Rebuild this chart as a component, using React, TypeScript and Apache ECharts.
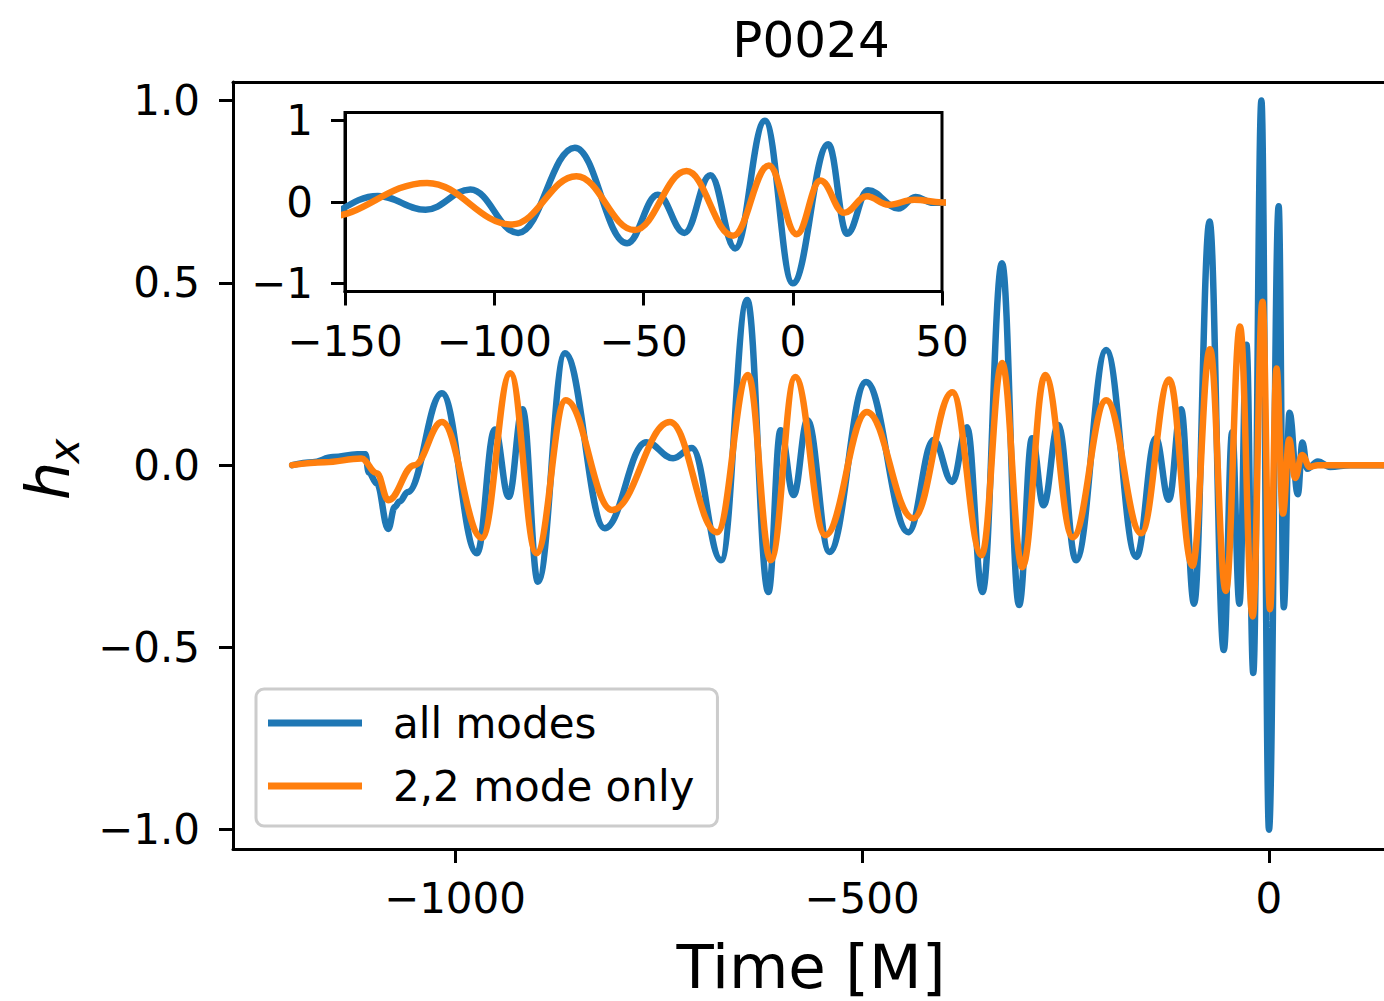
import React, { useEffect, useRef } from "react";
import * as echarts from "echarts";

// ---- data: [time (M), h_x] ----
const allModes: [number, number][] = [
  [-1200, 0], [-1175, 0.008], [-1150, 0.022], [-1120, 0.03], [-1110, 0.03],
  [-1106, -0.02], [-1096, -0.05], [-1082, -0.175], [-1074, -0.115], [-1068, -0.1],
  [-1058, -0.074], [-1016, 0.197], [-973, -0.242], [-951, 0.098], [-934, -0.087],
  [-917, 0.153], [-898, -0.32], [-865, 0.307], [-816, -0.173], [-765, 0.063],
  [-732, 0.019], [-709, 0.047], [-673, -0.261], [-641, 0.453], [-615, -0.348],
  [-600, 0.096], [-584, -0.082], [-567, 0.123], [-540, -0.238], [-495, 0.228],
  [-443, -0.184], [-412, 0.069], [-389, -0.046], [-371, 0.104], [-352, -0.348],
  [-328, 0.554], [-307, -0.384], [-291, 0.074], [-277, -0.11], [-259, 0.11],
  [-237, -0.261], [-200, 0.316], [-163, -0.252], [-139, 0.074], [-123, -0.095],
  [-108, 0.153], [-92, -0.38], [-73, 0.668], [-55.5, -0.507], [-45.2, 0.09],
  [-36.3, -0.38], [-27.6, 0.33], [-19.3, -0.57], [-9.3, 1.0], [0, -1.0],
  [11.9, 0.71], [18.2, -0.39], [25.2, 0.144], [35.4, -0.08], [41.1, 0.062],
  [47, -0.01], [60, 0.01], [75, -0.005], [100, 0], [147, 0],
];

const mode22: [number, number][] = [
  [-1200, 0], [-1160, 0.008], [-1115, 0.018], [-1096, -0.022], [-1082, -0.096],
  [-1050, 0.0], [-1016, 0.118], [-967, -0.2], [-932, 0.252], [-900, -0.242],
  [-864, 0.178], [-807, -0.123], [-736, 0.118], [-678, -0.184], [-640, 0.247],
  [-612, -0.261], [-582, 0.242], [-545, -0.192], [-494, 0.146], [-437, -0.146],
  [-389, 0.2], [-353, -0.247], [-328, 0.28], [-303, -0.28], [-275, 0.247],
  [-241, -0.198], [-200, 0.178], [-157, -0.187], [-122.5, 0.235], [-94, -0.276],
  [-72.5, 0.318], [-53, -0.345], [-35.6, 0.38], [-20, -0.415], [-8, 0.448],
  [1.3, -0.395], [9.3, 0.265], [17.2, -0.133], [24.8, 0.07], [32.1, -0.035],
  [40.7, 0.028], [50, -0.005], [60, 0], [147, 0],
];

const mainXTicks = [-1000, -500, 0];
const mainYTicks = [-1, -0.5, 0, 0.5, 1];
const insetXTicks = [-150, -100, -50, 0, 50];
const insetYTicks = [-1, 0, 1];
const seriesNames = ["all modes", "2,2 mode only"];
const chartTitle = "P0024";
const xTitle = "Time [M]";

const FONT = "DejaVu Sans";
const BLUE = "#1f77b4";
const ORANGE = "#ff7f0e";

const MAIN_X_MIN = -1272.7;
const MAIN_X_MAX = 141.3;

const minus = (s: string) => s.replace("-", "\u2212");
const fmtInt = (v: number) => minus(String(Math.round(v) + 0));
const fmt1 = (v: number) => minus((v + 0).toFixed(1));

function valueAxis(
  gridIndex: number,
  min: number,
  max: number,
  ticks: number[],
  fmt: (v: number) => string,
  margin: number
) {
  return {
    type: "value",
    gridIndex,
    min,
    max,
    splitLine: { show: false },
    axisLine: { show: true, onZero: false, lineStyle: { color: "#000", width: 3 } },
    axisTick: {
      show: true,
      inside: false,
      length: 14,
      lineStyle: { color: "#000", width: 3 },
      customValues: ticks,
    },
    axisLabel: {
      show: true,
      customValues: ticks,
      formatter: fmt,
      margin,
      fontSize: 42,
      fontFamily: FONT,
      color: "#000",
    },
  };
}

function lineSeries(name: string, data: [number, number][], color: string, idx: number, z: number) {
  return {
    type: "line",
    name,
    data,
    xAxisIndex: idx,
    yAxisIndex: idx,
    smooth: 0.4,
    smoothMonotone: "x",
    symbol: "none",
    showSymbol: false,
    clip: true,
    z,
    lineStyle: { color, width: 6.5, cap: "round", join: "round" },
    itemStyle: { color },
    emphasis: { disabled: true },
  };
}

export default function App() {
  const ref = useRef<HTMLDivElement>(null);

  useEffect(() => {
    document.body.style.margin = "0";
    if (!ref.current) return;
    const chart = echarts.init(ref.current, undefined, { renderer: "svg" });
    const option: any = {
      animation: false,
      backgroundColor: "#fff",
      grid: [
        {
          left: 233,
          top: 82,
          width: 1151,
          height: 767,
          show: false,
        },
        {
          left: 345,
          top: 112.5,
          width: 597,
          height: 179,
          show: true,
          borderColor: "#000",
          borderWidth: 3,
          backgroundColor: "#fff",
        },
      ],
      xAxis: [
        valueAxis(0, MAIN_X_MIN, MAIN_X_MAX, mainXTicks, fmtInt, 28),
        valueAxis(1, -150, 50, insetXTicks, fmtInt, 29),
        {
          type: "value",
          gridIndex: 0,
          position: "top",
          min: MAIN_X_MIN,
          max: MAIN_X_MAX,
          splitLine: { show: false },
          axisLine: { show: true, onZero: false, lineStyle: { color: "#000", width: 3 } },
          axisTick: { show: false },
          axisLabel: { show: false },
        },
      ],
      yAxis: [
        valueAxis(0, -1.053, 1.051, mainYTicks, fmt1, 33),
        valueAxis(1, -1.1, 1.1, insetYTicks, fmtInt, 32),
      ],
      legend: {
        data: seriesNames,
        orient: "vertical",
        left: 256,
        top: 689,
        padding: [13, 23, 19, 12],
        itemWidth: 94,
        itemHeight: 7,
        itemGap: 21,
        icon: "rect",
        backgroundColor: "#fff",
        borderColor: "#cccccc",
        borderWidth: 3,
        borderRadius: 8,
        selectedMode: false,
        textStyle: { fontSize: 42, fontFamily: FONT, color: "#000", padding: [0, 0, 0, 26] },
      },
      series: [
        lineSeries(seriesNames[0], allModes, BLUE, 0, 2),
        lineSeries(seriesNames[1], mode22, ORANGE, 0, 3),
        lineSeries(seriesNames[0], allModes, BLUE, 1, 4),
        lineSeries(seriesNames[1], mode22, ORANGE, 1, 5),
      ],
      graphic: [
        {
          type: "text",
          x: 811,
          y: 40,
          style: { text: chartTitle, fontSize: 50, fontFamily: FONT, fill: "#000", align: "center", verticalAlign: "middle" },
        },
        {
          type: "text",
          x: 811,
          y: 966,
          style: { text: xTitle, fontSize: 61, fontFamily: FONT, fill: "#000", align: "center", verticalAlign: "middle" },
        },
        {
          type: "text",
          x: 47,
          y: 481,
          rotation: Math.PI / 2,
          style: { text: "h", fontSize: 61, fontStyle: "italic", fontFamily: FONT, fill: "#000", align: "center", verticalAlign: "middle" },
        },
        {
          type: "text",
          x: 64,
          y: 451,
          rotation: Math.PI / 2,
          style: { text: "x", fontSize: 42, fontStyle: "italic", fontFamily: FONT, fill: "#000", align: "center", verticalAlign: "middle" },
        },
      ],
    };
    chart.setOption(option);
    return () => chart.dispose();
  }, []);

  return <div ref={ref} style={{ width: 1384, height: 1001 }} />;
}
